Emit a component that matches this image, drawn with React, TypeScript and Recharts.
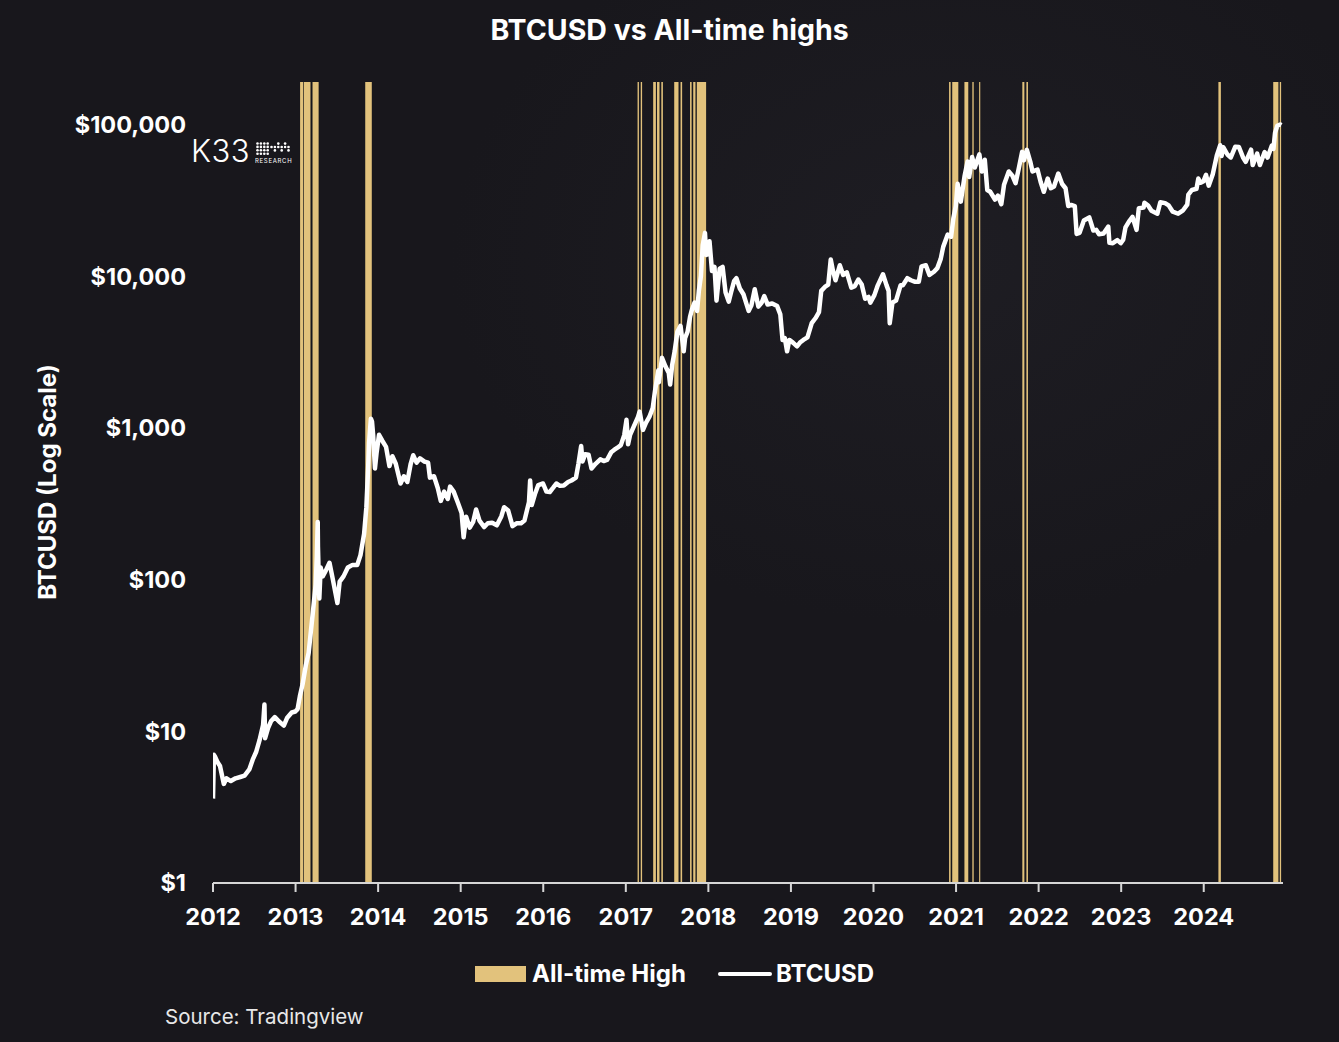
import React from 'react';
import { ComposedChart, Line, XAxis, YAxis, ReferenceArea } from 'recharts';

// BTCUSD price path (date, USD)
const btc2012: [string, number][] = [
  ['2012-01-01', 3.6], ['2012-01-05', 7.0], ['2012-01-10', 6.8], ['2012-01-20', 6.3],
  ['2012-02-01', 5.9], ['2012-02-18', 4.5], ['2012-03-01', 4.9], ['2012-03-20', 4.7],
  ['2012-04-10', 4.9], ['2012-05-01', 5.0], ['2012-05-20', 5.1], ['2012-06-10', 5.6],
  ['2012-06-25', 6.5], ['2012-07-10', 7.3], ['2012-07-25', 8.7], ['2012-08-10', 11.0],
  ['2012-08-16', 15.0], ['2012-08-19', 9.0], ['2012-09-01', 10.5], ['2012-09-15', 11.7],
  ['2012-10-01', 12.4], ['2012-10-20', 11.6], ['2012-11-10', 10.9], ['2012-11-25', 12.3],
  ['2012-12-15', 13.3], ['2012-12-31', 13.5],
];
const btc2013: [string, number][] = [
  ['2013-01-10', 14.0], ['2013-01-20', 17.0], ['2013-02-01', 20.4], ['2013-02-15', 27.0],
  ['2013-02-28', 33.0], ['2013-03-10', 46.0], ['2013-03-20', 64.0], ['2013-03-31', 93.0],
  ['2013-04-05', 142], ['2013-04-09', 240], ['2013-04-10', 165], ['2013-04-16', 75],
  ['2013-04-22', 120], ['2013-05-01', 105], ['2013-05-15', 115], ['2013-05-31', 129],
  ['2013-06-15', 100], ['2013-07-05', 70], ['2013-07-15', 97], ['2013-08-01', 105],
  ['2013-08-20', 120], ['2013-09-10', 125], ['2013-10-01', 125], ['2013-10-15', 145],
  ['2013-10-31', 200], ['2013-11-10', 300], ['2013-11-18', 550], ['2013-11-22', 800],
  ['2013-11-30', 1150], ['2013-12-05', 1100], ['2013-12-10', 900], ['2013-12-18', 540],
  ['2013-12-25', 680],
];
const btc2014: [string, number][] = [
  ['2014-01-05', 900], ['2014-01-20', 820], ['2014-02-05', 750], ['2014-02-20', 560],
  ['2014-03-05', 650], ['2014-03-20', 580], ['2014-04-10', 430], ['2014-04-25', 480],
  ['2014-05-10', 440], ['2014-05-25', 580], ['2014-06-05', 660], ['2014-06-20', 590],
  ['2014-07-05', 630], ['2014-07-25', 600], ['2014-08-10', 590], ['2014-08-18', 470],
  ['2014-09-05', 480], ['2014-09-22', 400], ['2014-10-05', 330], ['2014-10-20', 380],
  ['2014-11-05', 340], ['2014-11-15', 410], ['2014-12-01', 380], ['2014-12-20', 320],
];
const btc2015: [string, number][] = [
  ['2015-01-05', 275], ['2015-01-14', 190], ['2015-01-25', 260], ['2015-02-10', 220],
  ['2015-02-25', 240], ['2015-03-10', 290], ['2015-03-25', 245], ['2015-04-15', 222],
  ['2015-05-01', 235], ['2015-05-20', 237], ['2015-06-10', 228], ['2015-06-30', 262],
  ['2015-07-12', 300], ['2015-07-30', 285], ['2015-08-18', 225], ['2015-09-05', 235],
  ['2015-09-25', 235], ['2015-10-10', 245], ['2015-10-30', 325], ['2015-11-04', 450],
  ['2015-11-11', 310], ['2015-11-25', 365], ['2015-12-10', 420], ['2015-12-31', 430],
];
const btc2016: [string, number][] = [
  ['2016-01-15', 380], ['2016-01-30', 378], ['2016-02-15', 405], ['2016-02-28', 430],
  ['2016-03-15', 415], ['2016-04-01', 417], ['2016-04-20', 440], ['2016-05-05', 450],
  ['2016-05-25', 470], ['2016-06-05', 580], ['2016-06-17', 760], ['2016-06-23', 600],
  ['2016-07-05', 670], ['2016-07-20', 665], ['2016-08-02', 540], ['2016-08-20', 580],
  ['2016-09-10', 620], ['2016-09-25', 605], ['2016-10-10', 615], ['2016-10-28', 690],
  ['2016-11-10', 715], ['2016-11-25', 740], ['2016-12-10', 770], ['2016-12-25', 895],
];
const btc2017: [string, number][] = [
  ['2017-01-04', 1130], ['2017-01-11', 780], ['2017-01-20', 900], ['2017-02-05', 1020],
  ['2017-02-24', 1180], ['2017-03-03', 1280], ['2017-03-18', 970], ['2017-03-31', 1080],
  ['2017-04-15', 1180], ['2017-04-30', 1350], ['2017-05-10', 1750], ['2017-05-25', 2400],
  ['2017-05-27', 2000], ['2017-06-10', 2900], ['2017-06-25', 2550], ['2017-07-10', 2300],
  ['2017-07-16', 1930], ['2017-07-25', 2600], ['2017-08-05', 3200], ['2017-08-17', 4300],
  ['2017-08-31', 4700], ['2017-09-14', 3200], ['2017-09-20', 3900], ['2017-10-01', 4300],
  ['2017-10-12', 5400], ['2017-10-20', 6000], ['2017-11-01', 6700], ['2017-11-12', 5900],
  ['2017-11-20', 8000], ['2017-11-29', 10000], ['2017-12-07', 16000], ['2017-12-17', 19300],
  ['2017-12-22', 13800], ['2017-12-31', 14000],
];
const btc2018: [string, number][] = [
  ['2018-01-06', 17000], ['2018-01-17', 10800], ['2018-01-28', 11500], ['2018-02-06', 6900],
  ['2018-02-20', 11200], ['2018-03-05', 11500], ['2018-03-18', 7800], ['2018-04-01', 6800],
  ['2018-04-12', 7900], ['2018-04-25', 9300], ['2018-05-05', 9700], ['2018-05-20', 8300],
  ['2018-06-05', 7600], ['2018-06-28', 5900], ['2018-07-10', 6400], ['2018-07-25', 8200],
  ['2018-08-10', 6300], ['2018-08-25', 6700], ['2018-09-05', 7400], ['2018-09-20', 6500],
  ['2018-10-10', 6600], ['2018-11-01', 6350], ['2018-11-15', 5600], ['2018-11-25', 3800],
  ['2018-12-05', 3900], ['2018-12-15', 3200], ['2018-12-25', 3800],
];
const btc2019: [string, number][] = [
  ['2019-01-10', 3650], ['2019-01-28', 3450], ['2019-02-10', 3650], ['2019-02-25', 3800],
  ['2019-03-15', 3950], ['2019-04-03', 4900], ['2019-04-20', 5300], ['2019-05-05', 5800],
  ['2019-05-15', 8000], ['2019-05-31', 8500], ['2019-06-15', 8800], ['2019-06-26', 12900],
  ['2019-07-05', 11000], ['2019-07-17', 9400], ['2019-08-05', 11800], ['2019-08-20', 10200],
  ['2019-09-05', 10600], ['2019-09-25', 8400], ['2019-10-10', 8600], ['2019-10-26', 9500],
  ['2019-11-10', 8800], ['2019-11-25', 7100], ['2019-12-10', 7300], ['2019-12-18', 6700],
];
const btc2020: [string, number][] = [
  ['2020-01-05', 7500], ['2020-01-20', 8700], ['2020-02-12', 10300], ['2020-02-28', 8700],
  ['2020-03-08', 8000], ['2020-03-13', 4900], ['2020-03-25', 6700], ['2020-04-10', 6900],
  ['2020-04-30', 8700], ['2020-05-10', 8700], ['2020-05-30', 9700], ['2020-06-15', 9400],
  ['2020-07-01', 9200], ['2020-07-20', 9200], ['2020-08-01', 11600], ['2020-08-20', 11800],
  ['2020-09-05', 10200], ['2020-09-25', 10700], ['2020-10-10', 11300], ['2020-10-25', 13000],
  ['2020-11-05', 15600], ['2020-11-25', 18800], ['2020-12-10', 18200], ['2020-12-20', 24000],
  ['2020-12-31', 29000],
];
const btc2021: [string, number][] = [
  ['2021-01-08', 40600], ['2021-01-22', 31000], ['2021-02-08', 46000], ['2021-02-21', 57000],
  ['2021-02-28', 45000], ['2021-03-13', 61000], ['2021-03-25', 52000], ['2021-04-14', 63500],
  ['2021-04-25', 49000], ['2021-05-08', 58500], ['2021-05-19', 37000], ['2021-06-01', 36000],
  ['2021-06-22', 32000], ['2021-07-05', 34000], ['2021-07-20', 29800], ['2021-08-01', 40000],
  ['2021-08-22', 49000], ['2021-09-07', 46000], ['2021-09-21', 41000], ['2021-10-05', 51000],
  ['2021-10-20', 66000], ['2021-10-28', 58000], ['2021-11-10', 68000], ['2021-11-25', 57000],
  ['2021-12-05', 49000], ['2021-12-27', 50500],
];
const btc2022: [string, number][] = [
  ['2022-01-10', 41800], ['2022-01-24', 36000], ['2022-02-10', 44000], ['2022-02-24', 38000],
  ['2022-03-10', 39000], ['2022-03-29', 47500], ['2022-04-15', 40500], ['2022-04-30', 38000],
  ['2022-05-12', 29000], ['2022-05-25', 29500], ['2022-06-10', 29000], ['2022-06-18', 19000],
  ['2022-07-01', 19300], ['2022-07-20', 23300], ['2022-08-13', 24400], ['2022-08-31', 20000],
  ['2022-09-13', 20200], ['2022-09-25', 18900], ['2022-10-15', 19100], ['2022-10-30', 20600],
  ['2022-11-05', 21200], ['2022-11-10', 16600], ['2022-11-25', 16500], ['2022-12-15', 17300],
  ['2022-12-30', 16500],
];
const btc2023: [string, number][] = [
  ['2023-01-10', 17400], ['2023-01-20', 21000], ['2023-02-05', 23000], ['2023-02-20', 24600],
  ['2023-03-10', 20200], ['2023-03-20', 28000], ['2023-04-10', 28300], ['2023-04-14', 30500],
  ['2023-04-30', 29200], ['2023-05-15', 27000], ['2023-06-10', 25800], ['2023-06-23', 30700],
  ['2023-07-14', 30300], ['2023-07-30', 29300], ['2023-08-17', 26600], ['2023-09-10', 25800],
  ['2023-09-30', 27000], ['2023-10-20', 29600], ['2023-10-25', 34500], ['2023-11-10', 37000],
  ['2023-11-30', 37700], ['2023-12-08', 44000], ['2023-12-18', 41300], ['2023-12-31', 42300],
];
const btc2024: [string, number][] = [
  ['2024-01-11', 46600], ['2024-01-23', 39500], ['2024-02-10', 47000], ['2024-02-28', 62500],
  ['2024-03-14', 73000], ['2024-03-20', 62000], ['2024-03-28', 70700], ['2024-04-15', 63400],
  ['2024-04-30', 60600], ['2024-05-20', 71400], ['2024-06-05', 71000], ['2024-06-24', 60300],
  ['2024-07-05', 56700], ['2024-07-29', 68200], ['2024-08-05', 54000], ['2024-08-25', 64200],
  ['2024-09-06', 54000], ['2024-09-27', 65800], ['2024-10-10', 60500], ['2024-10-29', 72700],
  ['2024-11-05', 69000], ['2024-11-12', 88000], ['2024-11-22', 98000], ['2024-12-05', 100000],
  ['2024-12-10', 99000],
];

// periods where BTC printed new all-time highs (start, end)
const athPeriods: [string, string][] = [
  ['2013-01-21', '2013-02-04'], ['2013-02-07', '2013-03-08'], ['2013-03-17', '2013-04-13'],
  ['2013-11-05', '2013-12-04'],
  ['2017-02-22', '2017-02-28'], ['2017-03-08', '2017-03-14'], ['2017-05-02', '2017-05-14'],
  ['2017-05-19', '2017-05-30'], ['2017-06-07', '2017-06-14'], ['2017-08-03', '2017-08-22'],
  ['2017-08-31', '2017-09-07'], ['2017-10-12', '2017-10-19'], ['2017-10-26', '2017-11-05'],
  ['2017-11-11', '2017-12-22'],
  ['2020-12-01', '2020-12-08'], ['2020-12-15', '2021-01-11'], ['2021-02-07', '2021-02-24'],
  ['2021-03-14', '2021-03-20'], ['2021-04-13', '2021-04-18'], ['2021-10-21', '2021-10-30'],
  ['2021-11-08', '2021-11-15'],
  ['2024-03-06', '2024-03-17'], ['2024-11-04', '2024-11-27'], ['2024-12-03', '2024-12-09'],
];

const yearTicks = [2012, 2013, 2014, 2015, 2016, 2017, 2018, 2019, 2020, 2021, 2022, 2023, 2024];
const priceTicks = [1, 10, 100, 1000, 10000, 100000];

const GOLD = '#e2c27c';
const BG = '#18171c';
const FONT = 'Inter, "Noto Sans", sans-serif';

// date string -> fractional year
const toYear = (s: string) => {
  const [y, m, d] = s.split('-').map(Number);
  const start = Date.UTC(y, 0, 1);
  const end = Date.UTC(y + 1, 0, 1);
  return y + (Date.UTC(y, m - 1, d) - start) / (end - start);
};

const data = [
  ...btc2012, ...btc2013, ...btc2014, ...btc2015, ...btc2016, ...btc2017, ...btc2018,
  ...btc2019, ...btc2020, ...btc2021, ...btc2022, ...btc2023, ...btc2024,
].map(([date, price]) => ({ t: toYear(date), price }));

const tickStyle = { fill: '#ffffff', fontSize: 23.5, fontWeight: 700, fontFamily: FONT };

function K33Logo() {
  const dots: JSX.Element[] = [];
  // dense block
  for (let r = 0; r < 4; r++) {
    for (let c = 0; c < 4; c++) {
      dots.push(<circle key={`a${r}${c}`} cx={1.5 + c * 3.4} cy={1.5 + r * 3.4} r={1.3} fill="#fff" />);
    }
  }
  // sparse trail
  const trail = [[15.5, 5], [18.9, 5], [22.3, 5], [25.7, 5], [29.1, 5], [32.5, 5], [18.9, 8.4], [25.7, 8.4], [32.5, 8.4], [22.3, 1.6], [29.1, 1.6]];
  trail.forEach(([x, y], i) => dots.push(<circle key={`b${i}`} cx={x} cy={y} r={1.3} fill="#fff" />));
  return (
    <div style={{ position: 'absolute', left: 191, top: 134, display: 'flex', alignItems: 'center', color: '#fff' }}>
      <span style={{ fontFamily: FONT, fontWeight: 300, fontSize: 31, lineHeight: '34px', letterSpacing: 0.5 }}>K33</span>
      <svg width={38} height={26} style={{ marginLeft: 5, marginTop: 2 }}>
        <g transform="translate(1,3)">{dots}</g>
        <text x={0} y={24} fill="#fff" fontSize={6} fontFamily={FONT} letterSpacing={0.7}>RESEARCH</text>
      </svg>
    </div>
  );
}

export default function App() {
  return (
    <div
      style={{
        position: 'absolute', left: 0, top: 0, width: 1339, height: 1042,
        background: `radial-gradient(ellipse 700px 520px at 940px 260px, #1e1d23 0%, ${BG} 70%)`,
        fontFamily: FONT, overflow: 'hidden',
      }}
    >
      <style>{'body{margin:0;background:' + BG + ';}'}</style>
      <div style={{ position: 'absolute', left: 0, width: 1339, top: 11, textAlign: 'center', color: '#fff', fontSize: 28.5, fontWeight: 700, lineHeight: '38px' }}>
        BTCUSD vs All-time highs
      </div>

      <div
        style={{
          position: 'absolute', left: 47, top: 482, transform: 'translate(-50%, -50%) rotate(-90deg)',
          whiteSpace: 'nowrap', color: '#fff', fontSize: 24, fontWeight: 700,
        }}
      >
        BTCUSD (Log Scale)
      </div>

      <div style={{ position: 'absolute', left: 0, top: 0 }}>
        <ComposedChart width={1339} height={1042} data={data} margin={{ top: 82, right: 56, bottom: 114, left: 0 }}>
          <XAxis
            dataKey="t"
            type="number"
            domain={[2012, 2024.96]}
            allowDataOverflow
            ticks={yearTicks}
            interval={0}
            height={45}
            axisLine={{ stroke: '#d6d6d6', strokeWidth: 2 }}
            tickLine={{ stroke: '#d6d6d6', strokeWidth: 2 }}
            tickSize={9}
            tickMargin={16}
            tick={tickStyle}
          />
          <YAxis
            type="number"
            scale="log"
            domain={[1, 190546]}
            allowDataOverflow
            ticks={priceTicks}
            interval={0}
            width={213}
            axisLine={false}
            tickLine={false}
            tickSize={0}
            tickMargin={27}
            tick={tickStyle}
            tickFormatter={(v: number) => `$${v.toLocaleString('en-US')}`}
          />
          {athPeriods.map(([a, b], i) => (
            <ReferenceArea
              key={i}
              x1={toYear(a)}
              x2={toYear(b)}
              fill={GOLD}
              fillOpacity={1}
              stroke="none"
              ifOverflow="hidden"
            />
          ))}
          <Line
            dataKey="price"
            type="linear"
            stroke="#ffffff"
            strokeWidth={4.5}
            strokeLinejoin="round"
            dot={false}
            activeDot={false}
            isAnimationActive={false}
          />
        </ComposedChart>
      </div>

      <K33Logo />

      <div style={{ position: 'absolute', left: 475, top: 961, display: 'flex', alignItems: 'center', color: '#fff', fontSize: 24, fontWeight: 700, lineHeight: '26px' }}>
        <span style={{ display: 'inline-block', width: 51, height: 16, background: GOLD, marginRight: 6 }} />
        <span>All-time High</span>
        <span style={{ display: 'inline-block', width: 54, height: 4, borderRadius: 2, background: '#fff', marginLeft: 32, marginRight: 4 }} />
        <span>BTCUSD</span>
      </div>

      <div style={{ position: 'absolute', left: 165, top: 1004, color: '#e8e8e8', fontSize: 20.5, fontWeight: 400, lineHeight: '26px' }}>
        Source: Tradingview
      </div>
    </div>
  );
}
